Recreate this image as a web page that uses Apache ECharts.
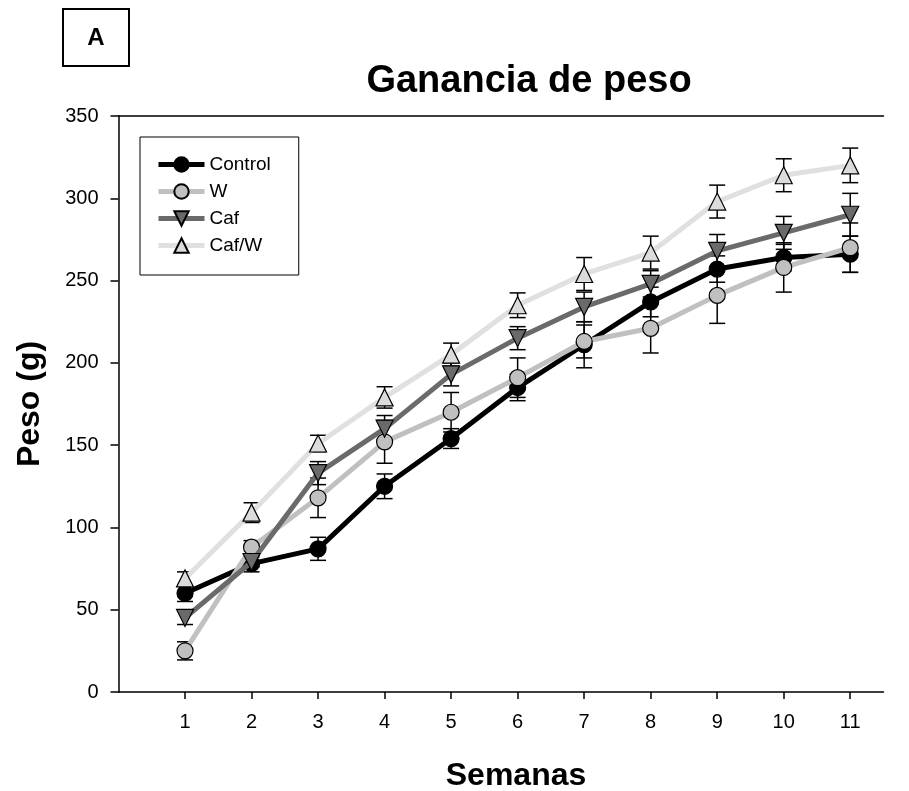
<!DOCTYPE html>
<html>
<head>
<meta charset="utf-8">
<script src="https://cdn.jsdelivr.net/npm/echarts@6/dist/echarts.min.js"></script>
<style>html,body{margin:0;padding:0;background:#fff}#c{width:909px;height:791px}</style>
</head>
<body>
<div id="c"></div>
<script>
const weeks = [1, 2, 3, 4, 5, 6, 7, 8, 9, 10, 11];
const yTicks = [0, 50, 100, 150, 200, 250, 300, 350];
const seriesNames = ['Control', 'W', 'Caf', 'Caf/W'];
const controlVals = [60, 78, 87, 125, 154, 185, 211, 237, 257, 264, 266];
const controlErr  = [5, 5, 7, 7.5, 6, 8, 14, 9, 8, 8, 11];
const wVals = [25, 88, 118, 152, 170, 191, 213, 221, 241, 258, 270];
const wErr  = [5.5, 4, 12, 13, 12, 12, 10, 15, 17, 15, 15];
const cafVals = [45, 79, 133, 160, 193, 215, 234, 248, 268, 279, 290];
const cafErr  = [4, 3, 7, 8, 7, 7, 9, 8, 10, 10, 13];
const cafwVals = [69, 109, 151, 179, 205, 235, 254, 267, 298, 314, 320];
const cafwErr  = [4, 6, 5, 6.5, 7, 7.5, 10, 10, 10, 10, 10.5];

const FONT = '"Liberation Sans", Arial, sans-serif';
const styles = [
  {line: '#000000', fill: '#000000', symbol: 'circle', rot: 0},
  {line: '#c0c0c0', fill: '#c0c0c0', symbol: 'circle', rot: 0},
  {line: '#6a6a6a', fill: '#6a6a6a', symbol: 'triangle', rot: 180},
  {line: '#e0e0e0', fill: '#dcdcdc', symbol: 'triangle', rot: 0}
];
const vals = [controlVals, wVals, cafVals, cafwVals];
const errs = [controlErr, wErr, cafErr, cafwErr];

const chart = echarts.init(document.getElementById('c'), null, {renderer: 'canvas'});

function errRender(params, api) {
  const x = api.value(0), y = api.value(1), e = api.value(2);
  const top = api.coord([x, y + e]);
  const bot = api.coord([x, y - e]);
  const hw = 8;
  const st = {stroke: '#000', lineWidth: 1.5};
  return {
    type: 'group',
    children: [
      {type: 'line', shape: {x1: top[0], y1: top[1], x2: bot[0], y2: bot[1]}, style: st},
      {type: 'line', shape: {x1: top[0] - hw, y1: top[1], x2: top[0] + hw, y2: top[1]}, style: st},
      {type: 'line', shape: {x1: bot[0] - hw, y1: bot[1], x2: bot[0] + hw, y2: bot[1]}, style: st}
    ]
  };
}

const series = [];
seriesNames.forEach((name, i) => {
  series.push({
    type: 'custom',
    name: name + '_err',
    renderItem: errRender,
    data: weeks.map((w, k) => [w, vals[i][k], errs[i][k]]),
    encode: {x: 0, y: 1},
    silent: true,
    z: 1
  });
});
seriesNames.forEach((name, i) => {
  series.push({
    type: 'line',
    name: name,
    data: weeks.map((w, k) => [w, vals[i][k]]),
    symbol: styles[i].symbol,
    symbolRotate: styles[i].rot,
    symbolSize: styles[i].symbol === 'circle' ? 16 : 17,
    showAllSymbol: true,
    lineStyle: {color: styles[i].line, width: 5},
    itemStyle: {color: styles[i].fill, borderColor: '#000', borderWidth: 1.2},
    emphasis: {disabled: true},
    animation: false,
    z: 2 + i
  });
});

chart.setOption({
  animation: false,
  backgroundColor: '#fff',
  title: {
    text: 'Ganancia de peso',
    left: 524, top: 58, textAlign: 'center',
    textStyle: {fontFamily: FONT, fontSize: 38, fontWeight: 'bold', color: '#000'}
  },
  graphic: [
    {type: 'rect', shape: {x: 63, y: 9, width: 66, height: 57}, style: {fill: '#fff', stroke: '#000', lineWidth: 2}},
    {type: 'text', x: 96, y: 38, style: {text: 'A', font: 'bold 24px ' + FONT, fill: '#000', align: 'center', verticalAlign: 'middle'}}
  ],
  legend: {
    data: seriesNames,
    orient: 'vertical',
    left: 140, top: 137,
    padding: [18, 28, 20, 16],
    itemWidth: 46, itemHeight: 18, itemGap: 8,
    borderColor: '#000', borderWidth: 1,
    lineStyle: {width: 5},
    textStyle: {fontFamily: FONT, fontSize: 19, lineHeight: 18, color: '#000'},
    selectedMode: false
  },
  grid: {left: 118.5, right: 25.5, top: 116, bottom: 99, outerBoundsMode: 'none', containLabel: false},
  xAxis: [{
    type: 'value', min: 0, max: 11.5, interval: 1,
    name: 'Semanas', nameLocation: 'middle', nameGap: 68,
    nameTextStyle: {fontFamily: FONT, fontSize: 32, fontWeight: 'bold', color: '#000', padding: [0, 0, 0, 30]},
    axisLine: {show: true, onZero: false, lineStyle: {color: '#000', width: 1.5}},
    axisTick: {show: true, length: 7, customValues: weeks, lineStyle: {color: '#000', width: 1.5}},
    axisLabel: {customValues: weeks, fontFamily: FONT, fontSize: 20, color: '#000', margin: 20},
    splitLine: {show: false}
  }, {
    type: 'value', position: 'top', min: 0, max: 11.5,
    axisLine: {show: true, onZero: false, lineStyle: {color: '#000', width: 1.5}},
    axisTick: {show: false}, axisLabel: {show: false}, splitLine: {show: false}
  }],
  yAxis: {
    type: 'value', min: 0, max: 350, interval: 50,
    name: 'Peso (g)', nameLocation: 'middle', nameGap: 72, nameRotate: 90,
    nameTextStyle: {fontFamily: FONT, fontSize: 32, fontWeight: 'bold', color: '#000'},
    axisLine: {show: true, lineStyle: {color: '#000', width: 1.5}},
    axisTick: {show: true, length: 8, customValues: yTicks, lineStyle: {color: '#000', width: 1.5}},
    axisLabel: {customValues: yTicks, fontFamily: FONT, fontSize: 20, color: '#000', margin: 20},
    splitLine: {show: false}
  },
  series: series
});
</script>
</body>
</html>
